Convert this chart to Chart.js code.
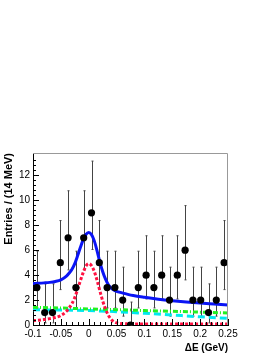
<!DOCTYPE html>
<html>
<head>
<meta charset="utf-8">
<script src="https://cdn.jsdelivr.net/npm/chart.js@4.4.1/dist/chart.umd.min.js"></script>
<style>
  html, body { margin: 0; padding: 0; background: #fff; }
  #box { width: 274px; height: 355px; }
</style>
</head>
<body>
<div id="box"><canvas id="myChart" width="274" height="355"></canvas></div>
<script>
'use strict';
// data points (14 MeV bins)
const binCenters=[-0.093,-0.079,-0.065,-0.051,-0.037,-0.023,-0.009,0.005,0.019,0.033,0.047,0.061,0.075,0.089,0.103,0.117,0.131,0.145,0.159,0.173,0.187,0.201,0.215,0.229,0.243];
const counts=[3,1,1,5,7,3,7,9,5,3,3,2,0,3,4,3,4,2,4,6,2,2,1,2,5];
const errLow=[1.37,0.17,0.17,2.84,4.42,1.37,4.42,6.06,2.84,1.37,1.37,0.71,0,1.37,2.09,1.37,2.09,0.71,2.09,3.62,0.71,0.71,0.17,0.71,2.84];
const errHigh=[5.92,3.3,3.3,8.38,10.77,5.92,10.77,13.15,8.38,5.92,5.92,4.64,1.84,5.92,7.16,5.92,7.16,4.64,7.16,9.58,4.64,4.64,3.3,4.64,8.38];

// fit curves
const curveX=[-0.1,-0.09,-0.08,-0.07,-0.06,-0.05,-0.04,-0.035,-0.03,-0.025,-0.02,-0.015,-0.01,-0.005,0,0.005,0.01,0.015,0.02,0.025,0.03,0.035,0.04,0.045,0.05,0.06,0.07,0.08,0.1,0.125,0.15,0.175,0.2,0.225,0.25];
const totalFit=[3.33,3.35,3.38,3.42,3.49,3.62,3.92,4.17,4.48,4.93,5.55,6.22,6.83,7.26,7.42,7.25,6.75,5.95,5.05,4.3,3.7,3.25,2.98,2.8,2.7,2.58,2.46,2.36,2.22,2.07,1.95,1.85,1.76,1.68,1.6];
const signalFit=[0.35,0.39,0.44,0.51,0.6,0.76,1.1,1.38,1.72,2.2,2.85,3.55,4.2,4.72,4.93,4.76,4.3,3.58,2.75,1.95,1.3,0.8,0.47,0.27,0.17,0.11,0.09,0.08,0.08,0.08,0.08,0.08,0.08,0.08,0.08];
const bkgX=[-0.1,-0.05,0,0.05,0.1,0.15,0.2,0.25];
const bkgGreen=[1.42,1.36,1.29,1.23,1.16,1.1,1.03,0.97];
const bkgCyan=[1.22,1.2,1.16,1.07,0.94,0.8,0.66,0.53];

const xTicks=[-0.1,-0.05,0,0.05,0.1,0.15,0.2,0.25];
const yTicks=[0,2,4,6,8,10,12];

function toPoints(xs,ys){
  let out=[];
  for (let i = 0; i < xs.length; i++) {
    out.push({x:xs[i],y:ys[i]});
  }
  return out;
}

// error bars under everything, ticks + frame on top
const rootStyle={
  id:'rootStyle',
  beforeDatasetsDraw(chart){
    let ctx=chart.ctx;
    let x=chart.scales.x, y=chart.scales.y;
    ctx.save();
    ctx.strokeStyle='#444';
    ctx.lineWidth=1;
    for (let i = 0; i < binCenters.length; i++) {
      let px=Math.round(x.getPixelForValue(binCenters[i]))+0.5;
      let y1=y.getPixelForValue(errLow[i]);
      let y2=y.getPixelForValue(errHigh[i]);
      ctx.beginPath();
      ctx.moveTo(px,y1);
      ctx.lineTo(px,y2);
      ctx.moveTo(px-1,y2);
      ctx.lineTo(px+1,y2);
      ctx.moveTo(px-1,y1);
      ctx.lineTo(px+1,y1);
      ctx.stroke();
    }
    ctx.restore();
  },
  afterDatasetsDraw(chart){
    let ctx=chart.ctx;
    let a=chart.chartArea;
    let x=chart.scales.x, y=chart.scales.y;
    ctx.save();
    // top / right frame
    ctx.strokeStyle='#999';
    ctx.lineWidth=1;
    ctx.beginPath();
    ctx.moveTo(a.left,a.top+0.5);
    ctx.lineTo(a.right-0.5,a.top+0.5);
    ctx.lineTo(a.right-0.5,a.bottom);
    ctx.stroke();
    // ticks pointing inward
    ctx.strokeStyle='#000';
    ctx.beginPath();
    for (let v = 0; v <= 13.6; v += 0.4) {
      let py=Math.round(y.getPixelForValue(v))+0.5;
      let major=Math.abs(v/2-Math.round(v/2))<0.01;
      ctx.moveTo(a.left,py);
      ctx.lineTo(a.left+(major?6:3),py);
    }
    for (let k = -10; k <= 25; k++) {
      let px=Math.round(x.getPixelForValue(k/100))+0.5;
      let major=(k%5===0);
      ctx.moveTo(px,a.bottom);
      ctx.lineTo(px,a.bottom-(major?6:3));
    }
    ctx.stroke();
    ctx.restore();
  }
};

let ctx=document.getElementById('myChart').getContext('2d');
let chart=new Chart(ctx,{
  type:'scatter',
  data:{
    datasets:[{
      label:'Data',
      data:toPoints(binCenters,counts),
      pointRadius:3.6,
      pointBackgroundColor:'#000',
      pointBorderWidth:0,
      showLine:false,
      order:0
    },
    {
      label:'Total',
      data:toPoints(curveX,totalFit),
      showLine:true,
      borderColor:'#0a14f5',
      borderWidth:3,
      pointRadius:0,
      cubicInterpolationMode:'monotone',
      order:1
    },
    {
      label:'Signal',
      data:toPoints(curveX,signalFit),
      showLine:true,
      borderColor:'#ff1040',
      borderWidth:3,
      borderDash:[3,2],
      pointRadius:0,
      cubicInterpolationMode:'monotone',
      order:2
    },
    {
      label:'Bkg 1',
      data:toPoints(bkgX,bkgGreen),
      showLine:true,
      borderColor:'#22f022',
      borderWidth:3,
      borderDash:[5,2,1,2],
      pointRadius:0,
      order:3
    },
    {
      label:'Bkg 2',
      data:toPoints(bkgX,bkgCyan),
      showLine:true,
      borderColor:'#00e8f0',
      borderWidth:3,
      borderDash:[7,4],
      pointRadius:0,
      cubicInterpolationMode:'monotone',
      order:4
    }]
  },
  options:{
    responsive:false,
    animation:false,
    devicePixelRatio:1,
    layout:{padding:{left:0,right:46,top:153,bottom:0}},
    plugins:{legend:{display:false},tooltip:{enabled:false}},
    scales:{
      x:{
        type:'linear',
        min:-0.1,
        max:0.25,
        afterFit(scale){ scale.height=30; },
        afterBuildTicks(scale){ scale.ticks=xTicks.map(v=>({value:v})); },
        grid:{display:false,drawTicks:false},
        border:{display:true,color:'#000',width:1},
        ticks:{
          autoSkip:false,maxRotation:0,padding:3,color:'#000',
          font:{family:'Liberation Sans',size:10},
          callback:v=>String(parseFloat(v.toFixed(2)))
        },
        title:{
          display:true,text:'ΔE (GeV)',align:'end',color:'#000',
          font:{family:'Liberation Sans',size:10,weight:'bold'},
          padding:{top:0,bottom:1}
        }
      },
      y:{
        min:0,
        max:13.8,
        afterFit(scale){ scale.width=33; },
        afterBuildTicks(scale){ scale.ticks=yTicks.map(v=>({value:v})); },
        grid:{display:false,drawTicks:false},
        border:{display:true,color:'#000',width:1},
        ticks:{
          autoSkip:false,padding:3,color:'#000',
          font:{family:'Liberation Sans',size:10}
        },
        title:{
          display:true,text:'Entries / (14 MeV)',align:'end',color:'#000',
          font:{family:'Liberation Sans',size:11,weight:'bold'},
          padding:{top:2,bottom:0}
        }
      }
    }
  },
  plugins:[rootStyle]
});
</script>
</body>
</html>
